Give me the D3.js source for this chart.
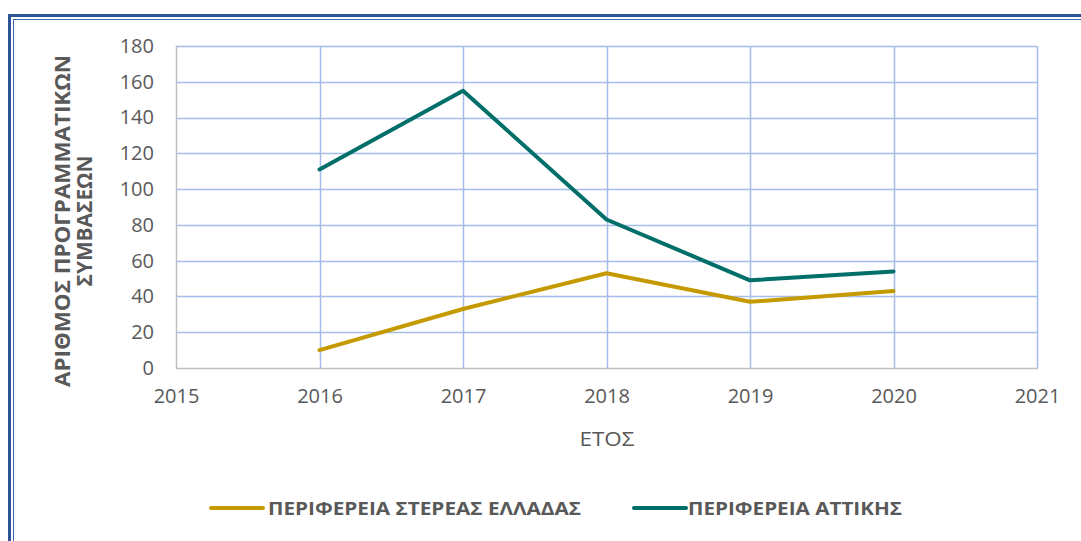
<!DOCTYPE html>
<html>
<head>
<meta charset="utf-8">
<script src="https://cdn.jsdelivr.net/npm/d3@7"></script>
<style>
  html, body { margin: 0; padding: 0; background: #fff; }
  svg { display: block; }
  text { font-family: "Open Sans", "Liberation Sans", sans-serif; }
</style>
</head>
<body>
<svg id="chart" width="1081" height="541"></svg>
<script>
const years = [2016, 2017, 2018, 2019, 2020];
const stereaValues = [10, 33, 53, 37, 43];
const attikiValues = [111, 155, 83, 49, 54];
const seriesNames = ["ΠΕΡΙΦΕΡΕΙΑ ΣΤΕΡΕΑΣ ΕΛΛΑΔΑΣ", "ΠΕΡΙΦΕΡΕΙΑ ΑΤΤΙΚΗΣ"];
const seriesColors = ["#C59A00", "#006E69"];
const xTicks = [2015, 2016, 2017, 2018, 2019, 2020, 2021];
const yTicks = [0, 20, 40, 60, 80, 100, 120, 140, 160, 180];
const yTitleLines = ["ΑΡΙΘΜΟΣ ΠΡΟΓΡΑΜΜΑΤΙΚΩΝ", "ΣΥΜΒΑΣΕΩΝ"];
const xTitle = "ΕΤΟΣ";

const svg = d3.select("#chart");

// Frame
svg.append("rect").attr("x", 9.5).attr("y", 15.5).attr("width", 1200).attr("height", 700)
  .attr("fill", "none").attr("stroke", "#2F5597").attr("stroke-width", 3);
svg.append("rect").attr("x", 13.5).attr("y", 19.5).attr("width", 1200).attr("height", 700)
  .attr("fill", "none").attr("stroke", "#3C64AE").attr("stroke-width", 1);

const pL = 176, pR = 1037, pT = 46, pB = 368;
const x = d3.scaleLinear().domain([2015, 2021]).range([pL, pR]);
const y = d3.scaleLinear().domain([0, 180]).range([pB, pT]);

// Gridlines
const grid = svg.append("g");
grid.selectAll("line.h").data(yTicks.filter(d => d > 0)).enter().append("line")
  .attr("x1", pL).attr("x2", pR)
  .attr("y1", d => Math.round(y(d)) + 0.5).attr("y2", d => Math.round(y(d)) + 0.5)
  .attr("stroke", "#A5BDE8").attr("stroke-width", 1.5);
grid.selectAll("line.v").data(xTicks.filter(d => d > 2015)).enter().append("line")
  .attr("y1", pT).attr("y2", pB)
  .attr("x1", d => Math.round(x(d)) + 0.5).attr("x2", d => Math.round(x(d)) + 0.5)
  .attr("stroke", "#A5BDE8").attr("stroke-width", 1.5);

// Axes lines
svg.append("line").attr("x1", pL + 0.5).attr("x2", pL + 0.5).attr("y1", pT).attr("y2", pB)
  .attr("stroke", "#BFBFBF").attr("stroke-width", 1.5);
svg.append("line").attr("x1", pL).attr("x2", pR + 1).attr("y1", pB + 0.5).attr("y2", pB + 0.5)
  .attr("stroke", "#BFBFBF").attr("stroke-width", 1.5);

// Y axis
const yAxis = d3.axisLeft(y).tickValues(yTicks).tickSize(0).tickPadding(22);
const gy = svg.append("g").attr("transform", `translate(${pL},0)`).call(yAxis);
gy.select(".domain").remove();
gy.selectAll("text").attr("fill", "#595959").style("font-size", "20px");

// X axis
const xAxis = d3.axisBottom(x).tickValues(xTicks).tickFormat(d3.format("d")).tickSize(0).tickPadding(21);
const gx = svg.append("g").attr("transform", `translate(0,${pB})`).call(xAxis);
gx.select(".domain").remove();
gx.selectAll("text").attr("fill", "#595959").style("font-size", "20px");

// Axis titles
svg.append("text").attr("x", 607).attr("y", 446)
  .attr("text-anchor", "middle").attr("fill", "#595959").style("font-size", "20px")
  .attr("textLength", 55).attr("lengthAdjust", "spacingAndGlyphs").text(xTitle);

const titleWidths = [332, 131];
const yt = svg.append("g").attr("transform", "translate(0,221) rotate(-90)");
yTitleLines.forEach((t, i) => {
  yt.append("text").attr("x", 0).attr("y", 70 + i * 22)
    .attr("text-anchor", "middle").attr("fill", "#595959")
    .style("font-size", "21px").style("font-weight", "bold")
    .attr("textLength", titleWidths[i]).attr("lengthAdjust", "spacingAndGlyphs").text(t);
});

// Lines
const line = d3.line().x((d, i) => x(years[i])).y(d => y(d));
[stereaValues, attikiValues].forEach((vals, i) => {
  svg.append("path").datum(vals).attr("d", line)
    .attr("fill", "none").attr("stroke", seriesColors[i]).attr("stroke-width", 4)
    .attr("stroke-linejoin", "round").attr("stroke-linecap", "round");
});

// Legend
const legendItems = [
  { x0: 211, tx: 268, w: 313 },
  { x0: 634, tx: 688, w: 214 }
];
seriesNames.forEach((name, i) => {
  const it = legendItems[i];
  svg.append("line").attr("x1", it.x0).attr("x2", it.x0 + 52).attr("y1", 508).attr("y2", 508)
    .attr("stroke", seriesColors[i]).attr("stroke-width", 4).attr("stroke-linecap", "round");
  svg.append("text").attr("x", it.tx).attr("y", 515).attr("fill", "#595959")
    .style("font-size", "18px").style("font-weight", "bold")
    .attr("textLength", it.w).attr("lengthAdjust", "spacingAndGlyphs").text(name);
});
</script>
</body>
</html>
